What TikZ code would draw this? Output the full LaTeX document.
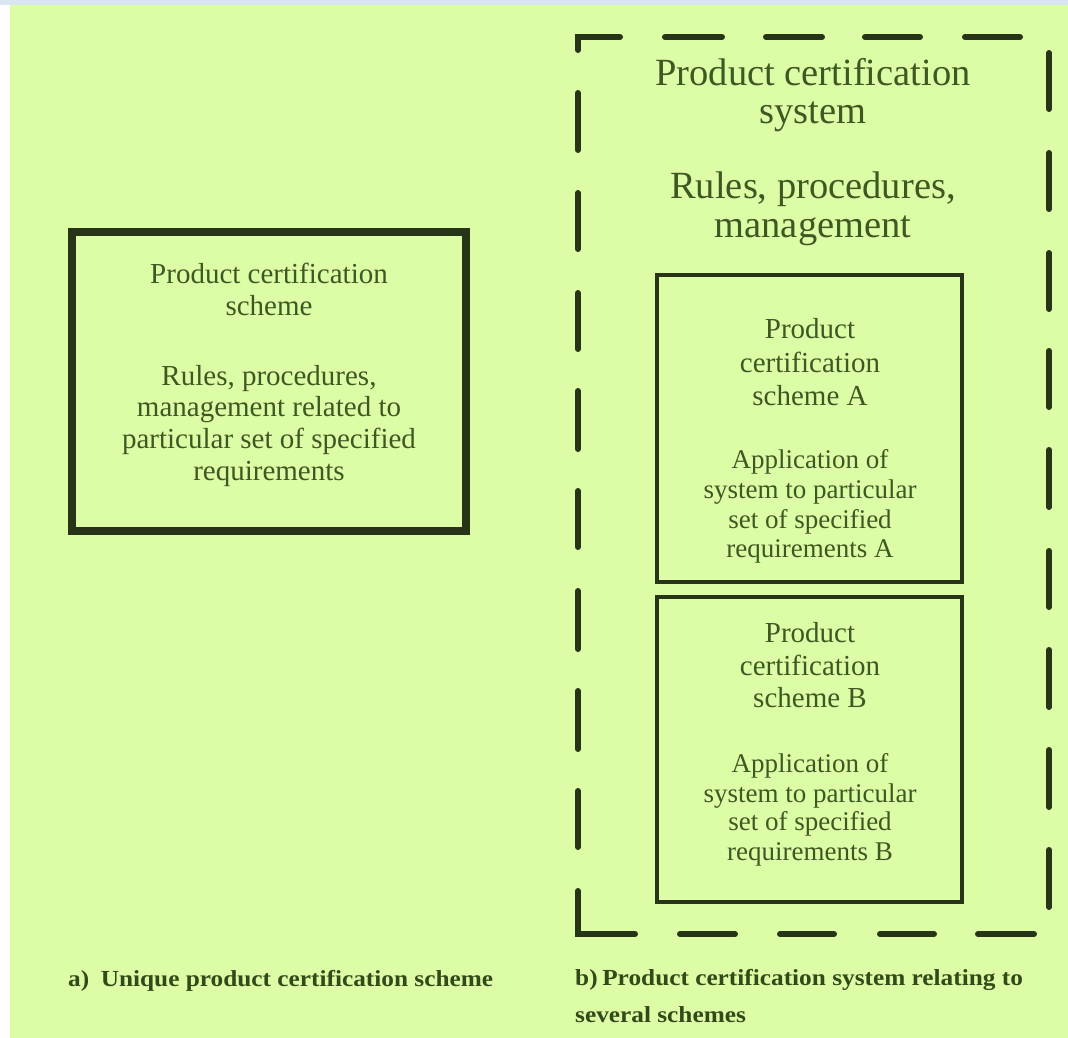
\documentclass[tikz,border=0pt]{standalone}
\usepackage{fontspec}
\setmainfont{Liberation Serif}
\newfontfamily\capfont[FakeStretch=1.1]{Liberation Serif}
\definecolor{bggreen}{RGB}{221,252,166}
\definecolor{topblue}{RGB}{218,229,242}
\definecolor{linecol}{RGB}{40,52,24}
\definecolor{txtgreen}{RGB}{62,88,34}
\definecolor{capgreen}{RGB}{50,74,24}
\begin{document}
\begin{tikzpicture}[x=1pt,y=-1pt,
  thickbox/.style={draw=linecol,line width=8pt,rectangle,inner sep=0pt},
  thinbox/.style={draw=linecol,line width=4pt,rectangle,inner sep=0pt},
  dashseg/.style={draw=linecol,line width=6pt,line cap=round},
  bodyline/.style={anchor=base,inner sep=0pt,text=txtgreen,font=\fontsize{29}{32}\selectfont},
  smallline/.style={anchor=base,inner sep=0pt,text=txtgreen,font=\fontsize{27}{30}\selectfont},
  bigline/.style={anchor=base,inner sep=0pt,text=txtgreen,font=\fontsize{38.5}{42}\selectfont},
  capline/.style={anchor=base west,inner sep=0pt,text=capgreen,font=\capfont\bfseries\fontsize{23}{26}\selectfont}]
% background
\fill[white] (0,0) rectangle (1068,1038);
\fill[bggreen] (10,5) rectangle (1068,1038);
\fill[topblue] (0,0) rectangle (1068,5);
\useasboundingbox (0,0) rectangle (1068,1038);

% (a) unique scheme box
\node[thickbox,minimum width=394pt,minimum height=299pt] (boxa) at (269,381.5) {};
\foreach \t/\y [count=\i] in {{Product certification}/283,{scheme}/315,{Rules, procedures,}/385,{management related to}/416,{particular set of specified}/448,{requirements}/480}
  \node[bodyline] (a\i) at (269,\y) {\t};

% (b) dashed system frame
\draw[dashseg] (578,50) -- (578,37) -- (620,37);
\foreach \a/\b in {665/722,766/822,865/920,965/1020}
  \draw[dashseg] (\a,37) -- (\b,37);
\foreach \a/\b in {53/109,153/209,253/309,351/407,450/507,551/607,650/707,750/807,850/907}
  \draw[dashseg] (1049,\a) -- (1049,\b);
\foreach \a/\b in {978/1034,880/934,780/834,680/735}
  \draw[dashseg] (\a,934) -- (\b,934);
\draw[dashseg] (635,934) -- (578,934) -- (578,891);
\foreach \a/\b in {791/847,691/749,591/649,491/547,391/449,293/349,193/249,93/150}
  \draw[dashseg] (578,\a) -- (578,\b);

\foreach \t/\y [count=\i] in {{Product certification}/86,{system}/124,{Rules, procedures,}/198,{management}/237}
  \node[bigline] (s\i) at (813,\y) {\t};

% scheme A
\node[thinbox,minimum width=305pt,minimum height=307pt] (boxA) at (809.5,428.5) {};
\foreach \t/\y [count=\i] in {{Product}/338,{certification}/372,{scheme A}/405}
  \node[bodyline] (A\i) at (810,\y) {\t};
\foreach \t/\y [count=\i] in {{Application of}/468,{system to particular}/498,{set of specified}/528,{requirements A}/557}
  \node[smallline] (Aa\i) at (810,\y) {\t};

% scheme B
\node[thinbox,minimum width=305pt,minimum height=305pt] (boxB) at (809.5,749.5) {};
\foreach \t/\y [count=\i] in {{Product}/642,{certification}/675,{scheme B}/707}
  \node[bodyline] (B\i) at (810,\y) {\t};
\foreach \t/\y [count=\i] in {{Application of}/772,{system to particular}/802,{set of specified}/830,{requirements B}/860}
  \node[smallline] (Bb\i) at (810,\y) {\t};

% captions
\node[capline] (capa) at (68,986) {a)\hspace{0.5em}Unique product certification scheme};
\node[capline] (capb1) at (575,985) {b)\hspace{0.2em}Product certification system relating to};
\node[capline] (capb2) at (575,1022) {several schemes};
\end{tikzpicture}
\end{document}
